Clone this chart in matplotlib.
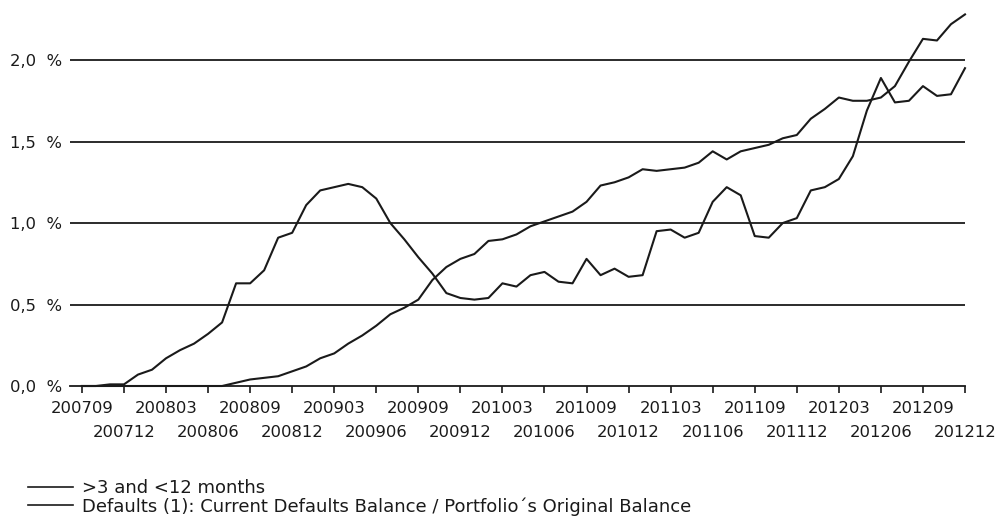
import matplotlib
matplotlib.use("Agg")
import matplotlib.pyplot as plt
from matplotlib.lines import Line2D

# Monthly periods 200709 .. 201212
months = []
for y in range(2007, 2013):
    for mo in range(1, 13):
        p = y * 100 + mo
        if 200709 <= p <= 201212:
            months.append(str(p))

# >3 and <12 months arrears (% of balance)
arrears = [0.00, 0.00, 0.01, 0.01, 0.07, 0.10, 0.17, 0.22, 0.26, 0.32,
           0.39, 0.63, 0.63, 0.71, 0.91, 0.94, 1.11, 1.20, 1.22, 1.24,
           1.22, 1.15, 1.00, 0.90, 0.79, 0.69, 0.57, 0.54, 0.53, 0.54,
           0.63, 0.61, 0.68, 0.70, 0.64, 0.63, 0.78, 0.68, 0.72, 0.67,
           0.68, 0.95, 0.96, 0.91, 0.94, 1.13, 1.22, 1.17, 0.92, 0.91,
           1.00, 1.03, 1.20, 1.22, 1.27, 1.41, 1.69, 1.89, 1.74, 1.75,
           1.84, 1.78, 1.79, 1.95]

# Defaults: current defaults balance / original balance
defaults = [0.00, 0.00, 0.00, 0.00, 0.00, 0.00, 0.00, 0.00, 0.00, 0.00,
            0.00, 0.02, 0.04, 0.05, 0.06, 0.09, 0.12, 0.17, 0.20, 0.26,
            0.31, 0.37, 0.44, 0.48, 0.53, 0.65, 0.73, 0.78, 0.81, 0.89,
            0.90, 0.93, 0.98, 1.01, 1.04, 1.07, 1.13, 1.23, 1.25, 1.28,
            1.33, 1.32, 1.33, 1.34, 1.37, 1.44, 1.39, 1.44, 1.46, 1.48,
            1.52, 1.54, 1.64, 1.70, 1.77, 1.75, 1.75, 1.77, 1.84, 1.99,
            2.13, 2.12, 2.22, 2.28]

labels = [">3 and <12 months",
          "Defaults (1): Current Defaults Balance / Portfolio\u00b4s Original Balance"]
y_ticks = [0.0, 0.5, 1.0, 1.5, 2.0]

ink = "#1a1a1a"
fs = 11.8
x = list(range(len(months)))

fig = plt.figure(figsize=(10, 5.2), dpi=100)
ax = fig.add_axes([0.07, 1 - 386 / 520, 0.895, 383 / 520])

ax.plot(x, arrears, color=ink, lw=1.5, clip_on=False)
ax.plot(x, defaults, color=ink, lw=1.5, clip_on=False)

ax.set_xlim(-0.85, len(months) - 1)
ax.set_ylim(0, 2.35)

for v in y_ticks[1:]:
    ax.axhline(v, color=ink, lw=1.3, zorder=0)

ax.set_yticks(y_ticks)
ax.set_yticklabels([f"{v:.1f}".replace(".", ",") + "  %" for v in y_ticks])
ax.tick_params(axis="y", length=0, pad=6, labelsize=fs, labelcolor=ink)

major = x[0::6]
minor = x[3::6]
ax.set_xticks(major)
ax.set_xticklabels([months[i] for i in major])
ax.set_xticks(minor, minor=True)
ax.set_xticklabels([months[i] for i in minor], minor=True)
ax.tick_params(axis="x", which="major", direction="out", length=5, width=1.2,
               color=ink, pad=6, labelsize=fs, labelcolor=ink)
ax.tick_params(axis="x", which="minor", direction="out", length=5, width=1.2,
               color=ink, pad=23, labelsize=fs, labelcolor=ink)

for s in ["top", "right", "left"]:
    ax.spines[s].set_visible(False)
ax.spines["bottom"].set_color(ink)
ax.spines["bottom"].set_linewidth(1.3)

handles = [Line2D([], [], color=ink, lw=1.2) for _ in labels]
fig.legend(handles, labels, loc="upper left", bbox_to_anchor=(0.028, 1 - 479 / 520),
           frameon=False, fontsize=13, handlelength=2.5, handletextpad=0.5,
           labelspacing=0.0, labelcolor=ink, borderpad=0, borderaxespad=0)

fig.savefig("out.png", dpi=100, facecolor="white")
